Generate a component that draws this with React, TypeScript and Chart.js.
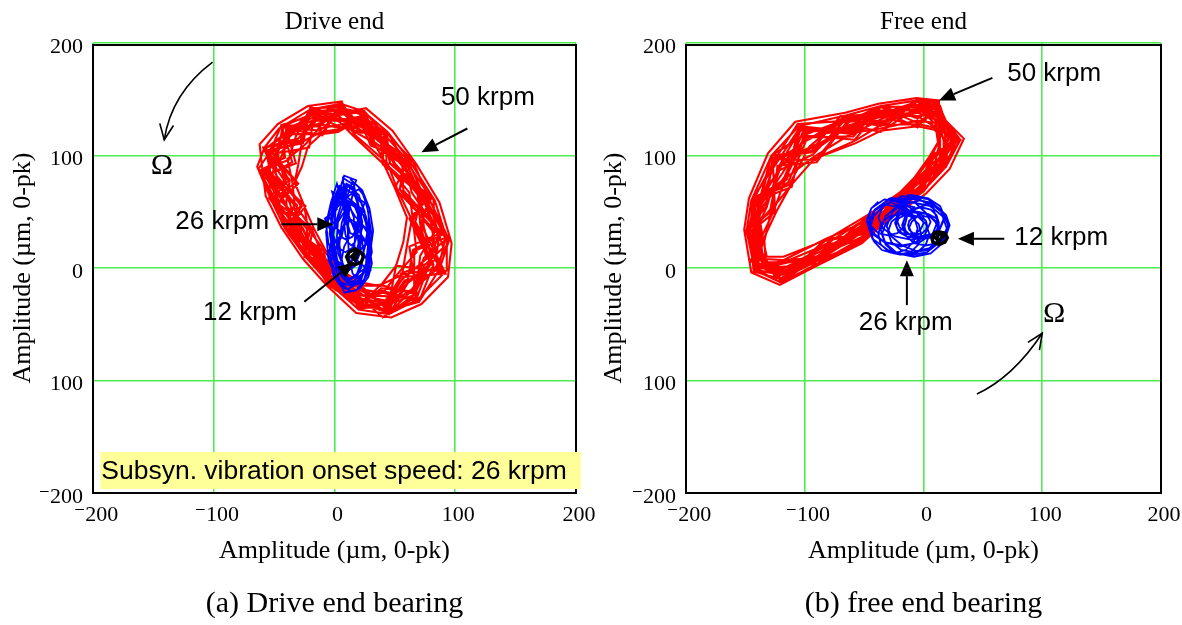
import { useEffect, useRef } from "react";
import { Chart, registerables } from "chart.js";

Chart.register(...registerables);

type Pt = [number, number];

// ---- axes ----
const tickValues = [-200, -100, 0, 100, 200];
const xTickLabels = ["⁻200", "⁻100", "0", "100", "200"];
const yTickLabels = ["⁻200", "100", "0", "100", "200"];

// ---- drive end orbits (µm) ----
const driveEnd50krpm: Pt[][] = [
  [[5,146],[-20,141],[-46,124],[-58,107],[-64,90],[-53,62],[-41,35],[-24,10],[-4,-14],[20,-37],[45,-41],[69,-28],[93,-2],[93,26],[83,60],[60,99],[44,121],[24,139]],
  [[5,141],[-19,139],[-37,121],[-57,106],[-53,84],[-54,62],[-36,35],[-18,12],[-4,-13],[21,-31],[45,-40],[64,-20],[86,0],[92,27],[74,64],[61,95],[41,119],[25,139]],
  [[4,136],[-14,128],[-36,120],[-44,99],[-52,84],[-37,58],[-31,35],[-14,13],[-1,-10],[21,-27],[42,-31],[60,-14],[81,4],[74,37],[70,65],[55,94],[36,114],[22,132]],
  [[3,127],[-13,124],[-24,110],[-39,97],[-35,77],[-33,57],[-19,35],[-11,14],[2,-6],[22,-19],[40,-22],[54,-3],[68,14],[65,42],[62,67],[43,92],[32,112],[17,121]],
  [[5,145],[-17,136],[-44,127],[-53,104],[-63,88],[-49,61],[-40,35],[-21,11],[-5,-15],[20,-33],[44,-38],[70,-30],[87,-1],[95,25],[78,62],[65,95],[43,120],[23,135]],
  [[4,131],[-15,131],[-30,115],[-47,101],[-42,80],[-43,59],[-26,35],[-17,12],[3,-5],[21,-24],[42,-29],[57,-9],[76,8],[71,39],[69,65],[49,93],[38,116],[19,127]],
  [[4,140],[-18,138],[-35,119],[-54,105],[-48,82],[-48,60],[-32,35],[-22,11],[-1,-9],[21,-32],[43,-33],[66,-24],[79,5],[86,30],[72,64],[59,94],[37,116],[23,136]],
  [[3,123],[-11,121],[-27,112],[-30,92],[-33,76],[-25,55],[-22,35],[-8,15],[4,-3],[22,-16],[38,-15],[56,-6],[60,20],[64,43],[52,70],[44,93],[28,108],[16,119]],
  [[6,148],[-22,144],[-47,128],[-62,110],[-60,90],[-57,64],[-44,36],[-26,8],[-6,-16],[18,-40],[47,-44],[72,-32],[94,-8],[97,22],[87,58],[68,92],[48,122],[26,142]],
  [[4,137],[-16,132],[-38,122],[-48,101],[-56,85],[-42,60],[-34,36],[-18,12],[-3,-12],[21,-28],[43,-34],[64,-19],[80,4],[82,32],[74,63],[53,96],[38,117],[21,131]],
  [[2,133],[-21,136],[-40,116],[-52,95],[-58,78],[-46,52],[-38,30],[-20,6],[1,-18],[24,-35],[48,-36],[62,-11],[84,8],[88,38],[76,55],[58,88],[42,110],[18,125]],
  [[6,144],[-12,126],[-42,125],[-50,98],[-60,82],[-50,55],[-28,38],[-14,8],[-6,-8],[17,-22],[40,-44],[66,-24],[74,2],[90,18],[80,52],[62,82],[46,118],[28,128]],
  [[4,131],[-19,141],[-27,112],[-53,104],[-32,76],[-51,61],[-28,35],[-24,10],[3,-5],[20,-33],[39,-18],[65,-21],[74,9],[93,26],[57,69],[56,94],[33,112],[24,138]],
  [[5,142],[-13,126],[-44,127],[-35,94],[-52,84],[-33,57],[-40,35],[-15,13],[-3,-12],[22,-16],[43,-35],[58,-11],[90,-4],[67,41],[72,64],[43,92],[43,120],[20,128]],
  [[5,147],[-16,133],[-30,115],[-59,107],[-48,82],[-28,56],[-36,35],[-19,12],[5,-3],[20,-36],[42,-30],[56,-6],[86,0],[81,33],[54,70],[64,95],[37,115],[18,124]],
  [[4,133],[-17,134],[-40,124],[-42,98],[-58,86],[-43,59],[-23,35],[-21,11],[-1,-9],[21,-22],[45,-41],[67,-26],[71,11],[83,32],[82,61],[46,93],[41,119],[21,131]],
  [[4,140],[-11,119],[-35,119],[-51,103],[-40,79],[-54,62],[-34,35],[-11,14],[-4,-14],[21,-29],[40,-22],[70,-30],[82,3],[64,43],[77,63],[54,94],[31,110],[23,136]],
  [[5,143],[-20,142],[-32,117],[-38,96],[-60,87],[-46,60],[-41,35],[-13,14],[1,-7],[21,-32],[44,-37],[60,-14],[65,16],[88,29],[64,67],[58,94],[44,121],[19,126]],
  [[3,125],[-14,128],[-38,122],[-57,106],[-37,78],[-40,59],[-37,35],[-23,11],[-2,-11],[21,-24],[41,-25],[68,-27],[79,5],[71,39],[80,62],[60,94],[35,114],[25,139]],
  [[4,137],[-18,137],[-43,126],[-47,101],[-55,85],[-34,57],[-29,35],[-18,12],[-4,-13],[20,-37],[42,-31],[59,-12],[84,1],[95,25],[74,64],[50,93],[39,117],[22,133]],
  [[3,121],[-11,119],[-22,108],[-27,90],[-33,76],[-25,55],[-17,35],[-7,15],[5,-2],[22,-13],[38,-16],[51,2],[57,23],[60,45],[50,71],[41,92],[26,107],[15,118]],
  [[4,130],[-20,142],[-26,111],[-54,105],[-30,75],[-45,60],[-20,35],[-25,10],[2,-7],[20,-35],[38,-15],[66,-23],[66,15],[92,27],[54,70],[58,94],[32,112],[25,139]],
  [[5,146],[-10,118],[-40,124],[-32,93],[-53,84],[-24,55],[-38,35],[-11,14],[-5,-14],[22,-17],[44,-37],[51,2],[89,-3],[65,42],[74,64],[40,92],[41,119],[17,122]],
  [[3,126],[-17,136],[-21,107],[-48,102],[-38,78],[-52,61],[-18,35],[-22,11],[4,-4],[21,-30],[39,-20],[69,-29],[62,19],[86,30],[50,71],[61,95],[30,109],[21,131]],
  [[4,138],[-12,122],[-43,126],[-41,98],[-61,87],[-31,56],[-35,35],[-9,15],[-3,-12],[21,-22],[45,-41],[55,-5],[79,5],[62,44],[78,62],[46,93],[43,121],[16,120]],
  [[4,135],[-20,143],[-28,113],[-59,107],[-43,80],[-27,55],[-41,35],[-16,13],[-4,-14],[22,-20],[43,-33],[57,-8],[92,-5],[72,38],[78,62],[40,92],[38,116],[24,137]],
];

const driveEnd26krpm: Pt[][] = [
  [[13,79],[22,70],[27,55],[31,28],[29,5],[20,-13],[11,-19],[2,-10],[-5,7],[-7,32],[-3,55],[4,73]],
  [[15,66],[22,58],[26,46],[30,24],[26,4],[22,-11],[13,-16],[6,-8],[0,6],[-2,26],[2,44],[7,61]],
  [[9,71],[17,64],[21,51],[23,36],[19,18],[17,3],[10,-1],[3,5],[0,16],[-3,34],[0,53],[5,66]],
  [[17,46],[22,40],[29,31],[31,14],[27,-1],[24,-12],[15,-16],[8,-10],[3,1],[1,16],[5,29],[10,42]],
  [[7,80],[16,74],[19,60],[23,41],[21,20],[14,6],[9,1],[0,8],[-5,22],[-7,39],[-3,58],[2,75]],
  [[13,31],[23,26],[29,18],[31,4],[28,-8],[21,-18],[14,-21],[5,-16],[-1,-7],[-3,6],[1,18],[6,28]],
  [[12,58],[17,54],[21,43],[22,28],[21,13],[17,2],[12,-2],[7,2],[3,13],[2,28],[3,43],[7,54]],
  [[15,77],[23,69],[29,53],[32,33],[29,9],[23,-5],[14,-13],[5,-5],[-1,11],[-4,31],[-1,55],[6,71]],
  [[12,42],[16,39],[19,31],[20,20],[19,9],[16,1],[12,-2],[8,1],[5,9],[4,20],[5,31],[8,39]],
  [[10,75],[15,72],[19,63],[20,50],[19,38],[15,28],[10,25],[5,28],[1,38],[0,50],[1,63],[5,72]],
  [[8,82],[18,78],[14,66],[25,58],[20,44],[28,30],[24,14],[30,-2],[18,-20],[8,-22],[2,-4],[-6,12],[0,26],[-8,44],[2,52],[-2,68]],
  [[11,60],[24,50],[17,38],[27,22],[15,10],[26,0],[12,-10],[4,2],[-4,18],[6,30],[-5,46],[4,56]],
  [[11,73],[20,65],[25,50],[27,31],[23,8],[18,-7],[12,-11],[4,-5],[1,10],[-1,29],[1,52],[6,67]],
  [[16,58],[22,53],[26,40],[28,22],[26,4],[22,-9],[16,-14],[10,-9],[6,4],[4,22],[6,40],[10,53]],
  [[9,74],[15,70],[19,59],[21,44],[19,29],[15,18],[9,14],[3,18],[-1,29],[-3,44],[-1,59],[3,70]],
  [[18,30],[24,27],[28,19],[30,8],[28,-3],[24,-11],[18,-14],[12,-11],[8,-3],[6,8],[8,19],[12,27]],
  [[7,62],[12,57],[16,45],[17,28],[16,11],[12,-1],[7,-6],[2,-1],[-2,11],[-3,28],[-2,45],[2,57]],
  [[20,70],[24,65],[28,50],[29,30],[28,10],[24,-5],[20,-10],[15,-5],[12,10],[11,30],[12,50],[15,65]],
  [[10,45],[17,41],[22,30],[24,15],[22,0],[17,-11],[10,-15],[3,-11],[-2,0],[-4,15],[-2,30],[3,41]],
  [[14,60],[17,57],[19,50],[20,40],[19,30],[17,23],[14,20],[11,23],[9,30],[8,40],[9,50],[11,57]],
];

const driveEnd12krpm: Pt[][] = [
  [[17,17],[22,14],[24,10],[22,5],[17,3],[12,5],[10,10],[12,14],[17,17],[19,12],[17,7],[14,10],[17,13]],
];

// ---- free end orbits (µm) ----
const freeEnd50krpm: Pt[][] = [
  [[12,147],[-5,149],[-36,144],[-64,136],[-105,126],[-128,100],[-145,60],[-149,33],[-142,-2],[-120,-13],[-89,4],[-50,25],[-28,46],[0,69],[19,90],[31,114]],
  [[11,142],[-5,148],[-36,137],[-63,133],[-101,118],[-128,100],[-138,56],[-147,31],[-142,-2],[-119,-6],[-88,7],[-48,34],[-26,49],[-3,72],[19,90],[27,114]],
  [[11,137],[-5,135],[-36,136],[-61,124],[-100,116],[-119,84],[-137,56],[-140,27],[-139,2],[-119,-3],[-86,12],[-47,37],[-25,52],[-5,75],[14,93],[24,114]],
  [[10,129],[-5,131],[-36,124],[-60,120],[-92,99],[-116,80],[-126,51],[-137,26],[-135,5],[-118,5],[-84,20],[-45,46],[-22,61],[-7,78],[10,95],[14,113]],
  [[12,146],[-5,143],[-36,144],[-63,131],[-106,128],[-126,95],[-144,59],[-146,31],[-143,-3],[-120,-10],[-88,7],[-50,24],[-27,48],[0,68],[17,91],[31,114]],
  [[10,132],[-5,138],[-36,130],[-61,126],[-96,106],[-122,90],[-132,54],[-143,29],[-135,6],[-119,-1],[-86,15],[-46,41],[-24,56],[-5,76],[12,94],[21,114]],
  [[11,141],[-5,145],[-36,135],[-63,132],[-99,113],[-125,94],[-138,56],[-147,31],[-138,2],[-120,-9],[-87,11],[-49,29],[-25,53],[-2,71],[14,93],[28,114]],
  [[9,125],[-5,128],[-36,127],[-58,113],[-92,97],[-112,73],[-128,52],[-134,24],[-133,8],[-118,7],[-82,26],[-45,43],[-20,66],[-7,79],[6,98],[13,113]],
  [[13,149],[-6,151],[-38,146],[-66,138],[-108,130],[-131,102],[-147,62],[-151,34],[-145,-4],[-121,-15],[-90,2],[-52,22],[-30,43],[2,66],[22,88],[34,115]],
  [[11,139],[-4,139],[-37,134],[-62,127],[-100,114],[-121,89],[-139,57],[-143,29],[-139,1],[-119,-5],[-86,12],[-48,34],[-25,53],[-3,72],[15,92],[24,114]],
  [[8,134],[-8,146],[-30,128],[-70,135],[-90,110],[-118,96],[-130,62],[-144,44],[-136,14],[-125,-8],[-100,2],[-70,22],[-38,38],[-14,62],[8,84],[26,104]],
  [[14,144],[-12,140],[-44,140],[-56,122],[-104,122],[-116,78],[-140,64],[-138,20],[-146,6],[-112,-4],[-80,16],[-56,30],[-20,50],[-10,70],[20,96],[18,120]],
  [[10,132],[-5,148],[-36,127],[-63,131],[-91,96],[-127,97],[-133,54],[-149,33],[-135,6],[-120,-10],[-83,24],[-48,31],[-24,57],[0,69],[8,97],[25,114]],
  [[11,143],[-5,133],[-36,144],[-59,117],[-100,116],[-116,80],[-144,59],[-140,28],[-141,-1],[-118,7],[-87,9],[-46,40],[-28,46],[-6,78],[14,93],[14,113]],
  [[12,148],[-5,140],[-36,130],[-64,136],[-99,113],[-114,76],[-141,58],[-144,30],[-133,8],[-120,-12],[-86,13],[-45,43],[-26,49],[-3,73],[7,98],[31,114]],
  [[10,135],[-5,141],[-36,140],[-60,123],[-104,123],[-122,90],[-129,52],[-146,31],[-138,2],[-119,1],[-89,4],[-49,28],[-23,59],[-3,72],[19,90],[17,113]],
  [[11,141],[-5,126],[-36,135],[-62,130],[-95,104],[-128,100],[-139,57],[-136,25],[-142,-2],[-119,-5],[-84,20],[-50,24],[-26,51],[-7,79],[17,91],[23,114]],
  [[12,144],[-5,149],[-36,132],[-60,119],[-104,125],[-124,93],[-145,60],[-139,27],[-136,4],[-120,-9],[-88,8],[-47,37],[-21,63],[-2,70],[11,95],[26,114]],
  [[9,126],[-5,135],[-36,138],[-63,135],[-93,101],[-121,87],[-142,58],[-148,32],[-139,1],[-119,-1],[-85,18],[-49,26],[-25,53],[-6,76],[18,90],[28,114]],
  [[11,138],[-5,144],[-36,143],[-61,126],[-102,120],[-117,81],[-135,55],[-144,29],[-141,-1],[-120,-13],[-86,12],[-46,38],[-26,50],[0,68],[15,92],[20,113]],
  [[9,123],[-5,126],[-36,122],[-57,111],[-92,97],[-112,73],[-124,50],[-135,25],[-132,10],[-118,10],[-82,25],[-44,49],[-19,68],[-8,80],[5,99],[13,113]],
  [[10,131],[-5,149],[-36,126],[-63,132],[-90,94],[-123,91],[-127,51],[-150,33],[-136,5],[-120,-11],[-82,26],[-49,30],[-22,62],[-1,69],[7,98],[26,114]],
  [[12,147],[-5,125],[-36,140],[-58,114],[-101,118],[-111,72],[-143,59],[-137,26],[-143,-2],[-118,6],[-88,8],[-44,49],[-27,47],[-7,78],[15,92],[12,113]],
  [[10,128],[-5,143],[-36,121],[-62,127],[-94,103],[-127,98],[-125,50],[-147,31],[-134,7],[-119,-6],[-83,21],[-50,25],[-20,65],[-2,71],[5,99],[29,114]],
  [[11,140],[-5,129],[-36,143],[-60,121],[-105,126],[-115,79],[-140,57],[-135,25],[-140,0],[-119,1],[-89,4],[-45,44],[-25,53],[-8,79],[17,91],[17,113]],
  [[11,136],[-5,150],[-36,128],[-64,136],[-96,108],[-113,74],[-145,60],[-141,28],[-142,-2],[-118,4],[-87,11],[-46,42],[-28,45],[-5,76],[17,91],[12,113]],
];

const freeEnd26krpm: Pt[][] = [
  [[-14,65],[4,61],[16,50],[21,37],[15,24],[3,14],[-12,11],[-30,16],[-43,26],[-47,39],[-41,52],[-28,62]],
  [[-4,61],[8,56],[17,48],[21,39],[16,26],[7,18],[-6,15],[-18,20],[-27,28],[-31,37],[-26,50],[-17,58]],
  [[-21,61],[-7,58],[2,49],[6,41],[1,29],[-8,22],[-19,19],[-33,23],[-42,31],[-46,40],[-41,51],[-33,57]],
  [[-8,50],[3,48],[11,41],[14,32],[11,23],[3,16],[-8,14],[-19,16],[-27,23],[-30,32],[-27,41],[-19,48]],
  [[-2,54],[6,52],[11,47],[13,40],[11,33],[6,28],[-2,26],[-10,28],[-15,33],[-17,40],[-15,47],[-10,52]],
  [[-15,48],[-5,46],[2,39],[5,30],[2,21],[-5,14],[-15,12],[-25,14],[-32,21],[-35,30],[-32,39],[-25,46]],
  [[-10,65],[4,62],[14,55],[18,45],[14,35],[4,28],[-10,25],[-24,28],[-34,35],[-38,45],[-34,55],[-24,62]],
  [[0,46],[6,45],[10,41],[12,36],[10,31],[6,27],[0,26],[-6,27],[-10,31],[-12,36],[-10,41],[-6,45]],
  [[-5,46],[-1,45],[2,42],[3,38],[2,34],[-1,31],[-5,30],[-9,31],[-12,34],[-13,38],[-12,42],[-9,45]],
  [[-25,57],[-15,54],[-8,46],[-5,35],[-8,24],[-15,16],[-25,13],[-35,16],[-42,24],[-45,35],[-42,46],[-35,54]],
  [[-18,64],[-3,61],[8,53],[12,42],[8,31],[-3,23],[-18,20],[-33,23],[-44,31],[-48,42],[-44,53],[-33,61]],
  [[-8,58],[6,55],[16,46],[20,34],[16,22],[6,13],[-8,10],[-22,13],[-32,22],[-36,34],[-32,46],[-22,55]],
  [[-3,60],[7,58],[14,52],[17,44],[14,36],[7,30],[-3,28],[-13,30],[-20,36],[-23,44],[-20,52],[-13,58]],
  [[-20,48],[-11,46],[-4,39],[-2,30],[-4,21],[-11,14],[-20,12],[-29,14],[-36,21],[-38,30],[-36,39],[-29,46]],
  [[-5,50],[4,48],[11,44],[13,38],[11,32],[4,28],[-5,26],[-14,28],[-21,32],[-23,38],[-21,44],[-14,48]],
  [[-12,50],[-6,49],[-2,45],[0,40],[-2,35],[-6,31],[-12,30],[-18,31],[-22,35],[-24,40],[-22,45],[-18,49]],
  [[2,56],[12,54],[19,47],[22,38],[19,29],[12,22],[2,20],[-8,22],[-15,29],[-18,38],[-15,47],[-8,54]],
  [[-30,61],[-22,59],[-16,53],[-14,45],[-16,37],[-22,31],[-30,29],[-38,31],[-44,37],[-46,45],[-44,53],[-38,59]],
];

const freeEnd12krpm: Pt[][] = [
  [[13,32],[18,31],[20,27],[18,23],[13,21],[8,23],[7,27],[9,31],[13,32],[16,28],[13,24],[10,27],[13,30]],
];

// ---- annotations (data coordinates) ----
type Label = { text: string; at: Pt };
type Pointer = { from: Pt; to: Pt };

const driveLabels: Label[] = [
  { text: "50 krpm", at: [127, 151] },
  { text: "26 krpm", at: [-93, 41] },
  { text: "12 krpm", at: [-70, -40] },
];
const drivePointers: Pointer[] = [
  { from: [110, 124], to: [72, 103] },
  { from: [-44, 39], to: [-1, 39] },
  { from: [-25, -30], to: [16, 5] },
];
const driveOmega: Pt = [-143, 91];
const driveSpin: Pt[] = [[-101, 183], [-128, 152], [-141, 114]];
const driveNote = "Subsyn. vibration onset speed: 26 krpm";
const driveNoteBox: Pt[] = [[-194, -163.5], [204, -196.5]];

const freeLabels: Label[] = [
  { text: "50 krpm", at: [110, 173] },
  { text: "12 krpm", at: [116, 27] },
  { text: "26 krpm", at: [-15, -49] },
];
const freePointers: Pointer[] = [
  { from: [58, 169], to: [13, 149] },
  { from: [68, 26], to: [29, 26] },
  { from: [-14, -33], to: [-14, 7] },
];
const freeOmega: Pt = [110, -41];
const freeSpin: Pt[] = [[45, -112], [74, -91], [100, -58]];

const SERIF = '"Liberation Serif", "Times New Roman", "DejaVu Serif", serif';
const SANS = '"Liberation Sans", Arial, sans-serif';
const GRID_GREEN = "#4fec4f";

function toPoints(loops: Pt[][]) {
  return loops.flat().map(([x, y]) => ({ x, y }));
}

function drawPointer(ctx: CanvasRenderingContext2D, x1: number, y1: number, x2: number, y2: number) {
  const ang = Math.atan2(y2 - y1, x2 - x1);
  const L = 16;
  const W = 7;
  const bx = x2 - L * Math.cos(ang);
  const by = y2 - L * Math.sin(ang);
  ctx.lineWidth = 2;
  ctx.beginPath();
  ctx.moveTo(x1, y1);
  ctx.lineTo(bx, by);
  ctx.stroke();
  ctx.beginPath();
  ctx.moveTo(x2, y2);
  ctx.lineTo(bx + W * Math.sin(ang), by - W * Math.cos(ang));
  ctx.lineTo(bx - W * Math.sin(ang), by + W * Math.cos(ang));
  ctx.closePath();
  ctx.fill();
}

function drawSpin(ctx: CanvasRenderingContext2D, s: Pt, m: Pt, e: Pt) {
  const cx = 2 * m[0] - (s[0] + e[0]) / 2;
  const cy = 2 * m[1] - (s[1] + e[1]) / 2;
  ctx.lineWidth = 1.6;
  ctx.beginPath();
  ctx.moveTo(s[0], s[1]);
  ctx.quadraticCurveTo(cx, cy, e[0], e[1]);
  ctx.stroke();
  const ang = Math.atan2(e[1] - cy, e[0] - cx);
  const L = 17;
  const spread = 0.42;
  ctx.beginPath();
  ctx.moveTo(e[0] - L * Math.cos(ang - spread), e[1] - L * Math.sin(ang - spread));
  ctx.lineTo(e[0], e[1]);
  ctx.lineTo(e[0] - L * Math.cos(ang + spread), e[1] - L * Math.sin(ang + spread));
  ctx.stroke();
}

const orbitOverlay = {
  id: "orbitOverlay",
  afterDraw(chart: any, _args: unknown, opts: any) {
    const { ctx, chartArea: a } = chart;
    const px = (v: number) => chart.scales.x.getPixelForValue(v);
    const py = (v: number) => chart.scales.y.getPixelForValue(v);
    ctx.save();

    // plot frame
    ctx.strokeStyle = "#000";
    ctx.lineWidth = 2;
    ctx.beginPath();
    ctx.moveTo(a.left, a.top + 2);
    ctx.lineTo(a.right, a.top + 2);
    ctx.moveTo(a.left, a.top + 1);
    ctx.lineTo(a.left, a.bottom);
    ctx.lineTo(a.right, a.bottom);
    ctx.lineTo(a.right, a.top + 1);
    ctx.stroke();

    // highlighted note
    if (opts.note) {
      const [p0, p1] = opts.noteBox as Pt[];
      const x0 = px(p0[0]);
      const x1 = px(p1[0]);
      const y0 = py(p0[1]);
      const y1 = py(p1[1]);
      ctx.fillStyle = "#ffff99";
      ctx.fillRect(x0, y0, x1 - x0, y1 - y0);
      ctx.fillStyle = "#000";
      ctx.font = `26.5px ${SANS}`;
      ctx.textAlign = "left";
      ctx.textBaseline = "middle";
      ctx.fillText(opts.note, x0 + 1, (y0 + y1) / 2 + 1);
    }

    // speed labels and pointers
    ctx.fillStyle = "#000";
    ctx.strokeStyle = "#000";
    ctx.font = `26px ${SANS}`;
    ctx.textAlign = "center";
    ctx.textBaseline = "middle";
    for (const l of opts.labels as Label[]) {
      ctx.fillText(l.text, px(l.at[0]), py(l.at[1]));
    }
    for (const p of opts.pointers as Pointer[]) {
      drawPointer(ctx, px(p.from[0]), py(p.from[1]), px(p.to[0]), py(p.to[1]));
    }

    // rotation direction
    const spin = (opts.spin as Pt[]).map(([x, y]) => [px(x), py(y)] as Pt);
    drawSpin(ctx, spin[0], spin[1], spin[2]);
    ctx.font = `30px ${SERIF}`;
    ctx.fillText("Ω", px(opts.omega[0]), py(opts.omega[1]));

    // titles
    const cx = (a.left + a.right) / 2;
    ctx.font = `25px ${SERIF}`;
    ctx.fillText(opts.title, cx, 22);
    ctx.font = `26px ${SERIF}`;
    ctx.fillText("Amplitude (µm, 0-pk)", cx, 551);
    ctx.save();
    ctx.translate(23, (a.top + a.bottom) / 2);
    ctx.rotate(-Math.PI / 2);
    ctx.fillText("Amplitude (µm, 0-pk)", 0, 0);
    ctx.restore();
    ctx.font = `30px ${SERIF}`;
    ctx.fillText(opts.caption, cx, 604);

    ctx.restore();
  },
};

type PlotProps = {
  offset: number;
  width: number;
  axisWidth: number;
  padRight: number;
  title: string;
  caption: string;
  red: Pt[][];
  blue: Pt[][];
  black: Pt[][];
  labels: Label[];
  pointers: Pointer[];
  omega: Pt;
  spin: Pt[];
  note?: string;
  noteBox?: Pt[];
};

function OrbitPlot(props: PlotProps) {
  const ref = useRef<HTMLCanvasElement>(null);

  useEffect(() => {
    const canvas = ref.current;
    if (!canvas) return;
    const chart = new Chart(canvas, {
      type: "scatter",
      data: {
        datasets: [
          {
            label: "12 krpm",
            data: toPoints(props.black),
            showLine: true,
            borderColor: "#000000",
            borderWidth: 3.5,
            pointRadius: 0,
            tension: 0,
            order: 1,
          },
          {
            label: "26 krpm",
            data: toPoints(props.blue),
            showLine: true,
            borderColor: "#0000ff",
            borderWidth: 1.8,
            pointRadius: 0,
            tension: 0,
            order: 2,
          },
          {
            label: "50 krpm",
            data: toPoints(props.red),
            showLine: true,
            borderColor: "#ff0000",
            borderWidth: 2.1,
            pointRadius: 0,
            tension: 0,
            order: 3,
          },
        ],
      },
      options: {
        animation: false,
        responsive: false,
        maintainAspectRatio: false,
        layout: { padding: { left: 0, right: props.padRight, top: 43, bottom: 92 } },
        plugins: {
          legend: { display: false },
          tooltip: { enabled: false },
          orbitOverlay: {
            title: props.title,
            caption: props.caption,
            labels: props.labels,
            pointers: props.pointers,
            omega: props.omega,
            spin: props.spin,
            note: props.note,
            noteBox: props.noteBox,
          },
        } as any,
        scales: {
          x: {
            type: "linear",
            min: -200,
            max: 200,
            ticks: {
              stepSize: 100,
              autoSkip: false,
              maxRotation: 0,
              padding: 9,
              labelOffset: 3,
              color: "#000",
              font: { family: SERIF, size: 22 },
              callback: (v: any) => xTickLabels[tickValues.indexOf(Number(v))] ?? "",
            },
            grid: { color: GRID_GREEN, lineWidth: 1.6, drawTicks: false },
            border: { display: false },
            afterFit: (s: any) => {
              s.height = 40;
              s.paddingLeft = 0;
              s.paddingRight = 0;
            },
          },
          y: {
            type: "linear",
            min: -200,
            max: 200,
            ticks: {
              stepSize: 100,
              autoSkip: false,
              padding: 10,
              labelOffset: 4,
              color: "#000",
              font: { family: SERIF, size: 22 },
              callback: (v: any) => yTickLabels[tickValues.indexOf(Number(v))] ?? "",
            },
            grid: { color: GRID_GREEN, lineWidth: 1.6, drawTicks: false },
            border: { display: false },
            afterFit: (s: any) => {
              s.width = props.axisWidth;
              s.paddingTop = 0;
              s.paddingBottom = 0;
            },
          },
        },
      },
      plugins: [orbitOverlay],
    });
    return () => chart.destroy();
  }, []);

  return (
    <canvas
      ref={ref}
      width={props.width}
      height={625}
      style={{ position: "absolute", left: props.offset, top: 0, width: props.width, height: 625 }}
    />
  );
}

export default function App() {
  return (
    <div style={{ position: "fixed", left: 0, top: 0, width: 1182, height: 625, background: "#fff", overflow: "hidden" }}>
      <OrbitPlot
        offset={0}
        width={640}
        axisWidth={93}
        padRight={64}
        title="Drive end"
        caption="(a) Drive end bearing"
        red={driveEnd50krpm}
        blue={driveEnd26krpm}
        black={driveEnd12krpm}
        labels={driveLabels}
        pointers={drivePointers}
        omega={driveOmega}
        spin={driveSpin}
        note={driveNote}
        noteBox={driveNoteBox}
      />
      <OrbitPlot
        offset={591}
        width={591}
        axisWidth={95}
        padRight={21}
        title="Free end"
        caption="(b) free end bearing"
        red={freeEnd50krpm}
        blue={freeEnd26krpm}
        black={freeEnd12krpm}
        labels={freeLabels}
        pointers={freePointers}
        omega={freeOmega}
        spin={freeSpin}
      />
    </div>
  );
}
